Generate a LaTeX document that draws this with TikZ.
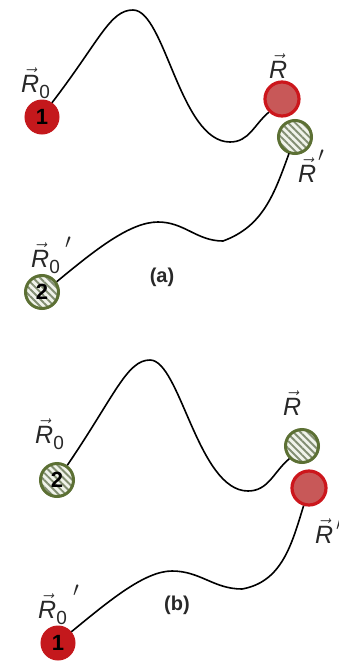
\documentclass[tikz,border=0pt]{standalone}
\usepackage{fontspec}
\setmainfont{Liberation Sans}
\usetikzlibrary{patterns.meta}
\definecolor{redD}{RGB}{196,24,28}
\definecolor{redB}{RGB}{204,22,28}
\definecolor{redT}{RGB}{200,88,88}
\definecolor{grnB}{RGB}{92,112,52}
\definecolor{hatchbg}{RGB}{240,243,234}
\definecolor{hatchln}{RGB}{130,142,114}
\definecolor{lblgray}{RGB}{40,40,40}
\newcommand\vR{$\vec{\textit{R}}$}
\newcommand\subz{\raisebox{-6pt}{\fontsize{19}{19}\selectfont 0}}
\tikzset{
  redball/.style={circle,inner sep=0pt,minimum size=34pt,fill=redD,draw=redD,line width=1pt,
    font=\fontsize{22}{22}\selectfont\bfseries,text=black},
  redglass/.style={circle,inner sep=0pt,minimum size=34pt,fill=redT,draw=redB,line width=3.2pt},
  greenball/.style={circle,inner sep=0pt,minimum size=33pt,draw=grnB,line width=3pt,
    preaction={fill=hatchbg},
    pattern={Lines[angle=-45,distance=5pt,line width=1.9pt]},pattern color=hatchln,
    font=\fontsize{22}{22}\selectfont\bfseries,text=black},
  lbl/.style={anchor=base west,inner sep=0pt,font=\fontsize{25}{25}\selectfont,text=lblgray},
  primemark/.style={inner sep=0pt,font=\fontsize{22}{22}\selectfont,text=lblgray},
  captext/.style={inner sep=0pt,font=\fontsize{20}{20}\selectfont\bfseries,text=lblgray},
  curve/.style={draw=black,line width=1.6pt}
}
\begin{document}
\begin{tikzpicture}[x=1pt,y=1pt]
\useasboundingbox (0,0) rectangle (339,-662);
% ---------------- (a) ----------------
\node[redball] (a1) at (42,-117) {1};
\node[redglass] (aR) at (282,-99) {};
\node[greenball] (aRp) at (295,-137) {};
\node[greenball] (a2) at (42,-292) {2};
\coordinate (aP1) at (133,-10);
\coordinate (aT1) at (230,-142);
\coordinate (aP2) at (158,-222);
\coordinate (aT2) at (223,-241);
\draw[curve] (a1.55) .. controls (100,-40) and (110,-10) .. (aP1)
  .. controls (165,-10) and (180,-142) .. (aT1) to[out=0,in=220] (aR.225);
\draw[curve] (a2.35) .. controls (95,-250) and (130,-222) .. (aP2)
  to[out=0,in=180] (aT2) to[out=20,in=250] (aRp.250);
\node[lbl] (aR0) at (21,-92) {\vR\subz};
\node[lbl] (aRl) at (269,-78) {\vR};
\node[lbl] (aRpl) at (298,-182) {\vR};
\node[primemark] (aRpp) at (321,-156) {$\prime$};
\node[lbl] (aR0p) at (31,-267) {\vR\subz};
\node[primemark] (aR0pp) at (68,-243) {$\prime$};
\node[captext] (capa) at (162,-277) {(a)};
% ---------------- (b) ----------------
\node[greenball] (b2) at (57,-480) {2};
\node[greenball] (bR) at (302,-446) {};
\node[redglass] (bRp) at (309,-488) {};
\node[redball] (b1) at (58,-643) {1};
\coordinate (bP1) at (150,-360);
\coordinate (bT1) at (248,-491);
\coordinate (bP2) at (172,-571);
\coordinate (bT2) at (242,-589);
\draw[curve] (b2.55) .. controls (115,-395) and (127,-360) .. (bP1)
  .. controls (180,-360) and (198,-491) .. (bT1) to[out=0,in=220] (bR.225);
\draw[curve] (b1.40) .. controls (110,-600) and (145,-571) .. (bP2)
  to[out=0,in=180] (bT2) to[out=10,in=253] (bRp.253);
\node[lbl] (bR0) at (35,-443) {\vR\subz};
\node[lbl] (bRl) at (283,-415) {\vR};
\node[lbl] (bRpl) at (315,-543) {\vR};
\node[primemark] (bRpp) at (339,-525) {$\prime$};
\node[lbl] (bR0p) at (38,-618) {\vR\subz};
\node[primemark] (bR0pp) at (76,-591) {$\prime$};
\node[captext] (capb) at (177,-605) {(b)};
\end{tikzpicture}
\end{document}
